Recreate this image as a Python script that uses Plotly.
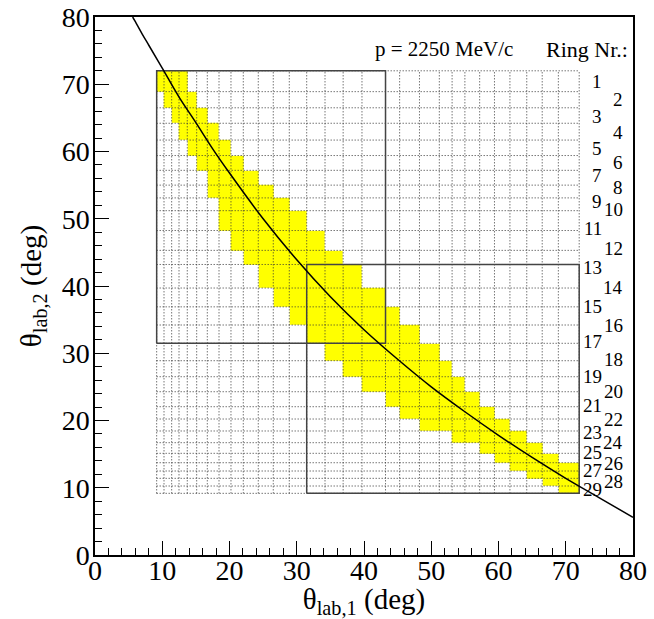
import plotly.graph_objects as go

# Ring boundaries in theta_lab (deg), shared by both axes (30 edges -> 29 rings)
ring_edges = [9.17, 10.26, 11.40, 12.49, 13.72, 15.12, 16.70, 18.44, 20.22, 22.05,
              24.28, 26.51, 28.89, 31.48, 34.20, 36.90, 39.70, 43.20, 45.30, 48.25,
              51.20, 53.10, 55.00, 57.20, 59.40, 61.70, 64.20, 66.50, 68.90, 72.00]

# Allowed cells per row (row 0 = lowest ring interval): first and last column index
band_first = [28, 27, 26, 25, 24, 23, 21, 19, 18, 17, 16, 15, 14, 13, 12,
              11, 10, 9, 8, 7, 7, 6, 6, 5, 4, 3, 2, 1, 0]
band_last = [28, 28, 28, 28, 27, 26, 25, 24, 23, 22, 21, 20, 19, 18, 17,
             16, 15, 14, 13, 12, 11, 10, 9, 8, 7, 6, 5, 4, 3]

# Elastic kinematics curve theta_lab,2 vs theta_lab,1 at p = 2250 MeV/c
curve_t1 = [5.6, 6.0, 7.0, 8.0, 10.0, 12.5, 15.0, 17.5, 20.0, 25.0, 30.0, 35.0,
            40.0, 45.0, 50.0, 55.0, 60.0, 65.0, 70.0, 75.0, 80.0]
curve_t2 = [80.0, 79.3, 77.5, 75.8, 72.4, 68.1, 64.3, 60.4, 56.8, 50.0, 43.9, 38.4,
            33.5, 29.1, 25.0, 21.3, 17.8, 14.5, 11.4, 8.5, 5.6]

# Ring numbers and their label heights (deg)
ring_numbers = list(range(1, 30))
ring_label_y = [70.4, 67.7, 65.2, 62.9, 60.5, 58.4, 56.5, 54.6, 52.5, 51.4,
                48.6, 45.6, 42.7, 39.8, 36.9, 34.2, 31.7, 29.0, 26.5, 24.3,
                22.2, 20.1, 18.2, 16.7, 15.2, 13.6, 12.5, 10.9, 9.8]

# Detector acceptance windows (indices into ring_edges)
window_a = dict(x0=0, x1=17, y0=13, y1=29)
window_b = dict(x0=13, x1=29, y0=0, y1=17)

FONT = "Liberation Serif"
n = len(ring_edges) - 1

z = [[None] * n for _ in range(n)]
for r in range(n):
    for c in range(band_first[r], band_last[r] + 1):
        z[r][c] = 1

fig = go.Figure()
fig.add_trace(go.Heatmap(
    x=ring_edges, y=ring_edges, z=z, zmin=0, zmax=1,
    colorscale=[[0, "#ffff00"], [1, "#ffff00"]],
    showscale=False, hoverinfo="skip", xgap=0, ygap=0,
))

# dotted ring grid
gx, gy = [], []
lo, hi = ring_edges[0], ring_edges[-1]
for e in ring_edges:
    gx += [lo, hi, None]
    gy += [e, e, None]
    gx += [e, e, None]
    gy += [lo, hi, None]
fig.add_trace(go.Scatter(
    x=gx, y=gy, mode="lines", hoverinfo="skip",
    line=dict(color="#333333", width=1, dash="1px,2px"),
))

# acceptance windows
for w in (window_a, window_b):
    x0, x1 = ring_edges[w["x0"]], ring_edges[w["x1"]]
    y0, y1 = ring_edges[w["y0"]], ring_edges[w["y1"]]
    fig.add_trace(go.Scatter(
        x=[x0, x1, x1, x0, x0], y=[y0, y0, y1, y1, y0], mode="lines",
        hoverinfo="skip", line=dict(color="#444444", width=1.5),
    ))

fig.add_trace(go.Scatter(
    x=curve_t1, y=curve_t2, mode="lines", hoverinfo="skip",
    line=dict(color="black", width=1.5, shape="spline"),
))

annotations = [
    dict(x=41.3, y=75.2, text="p = 2250 MeV/c", xanchor="left", yanchor="middle",
         showarrow=False, font=dict(family=FONT, size=21, color="black")),
    dict(x=79.6, y=75.2, text="Ring Nr.:", xanchor="right", yanchor="middle",
         showarrow=False, font=dict(family=FONT, size=22, color="black")),
]
for num, yy in zip(ring_numbers, ring_label_y):
    xx = 75.7 if num % 2 == 1 else 78.8
    annotations.append(dict(
        x=xx, y=yy, text=str(num), xanchor="right", yanchor="middle",
        showarrow=False, font=dict(family=FONT, size=19, color="black")))

axis_common = dict(
    range=[0, 80], dtick=10, tick0=0, ticks="inside", ticklen=14, tickwidth=1,
    tickcolor="black", showline=True, linecolor="black", linewidth=1.5,
    mirror=True, showgrid=False, zeroline=False, automargin=False,
    tickfont=dict(family=FONT, size=28, color="black"),
    minor=dict(dtick=2, ticks="inside", ticklen=7, tickcolor="black", tickwidth=1,
               showgrid=False),
)

fig.update_layout(
    width=654, height=619,
    margin=dict(l=95, r=21, t=17, b=64),
    paper_bgcolor="white", plot_bgcolor="white",
    showlegend=False,
    xaxis=dict(**axis_common, ticklabelstandoff=-10,
               title=dict(text="θ<sub>lab,1</sub> (deg)", standoff=0,
                          font=dict(family=FONT, size=29, color="black"))),
    yaxis=dict(**axis_common, ticklabelstandoff=-2,
               title=dict(text="θ<sub>lab,2</sub> (deg)", standoff=12,
                          font=dict(family=FONT, size=29, color="black"))),
    annotations=annotations,
)

fig.write_html("out.html")
